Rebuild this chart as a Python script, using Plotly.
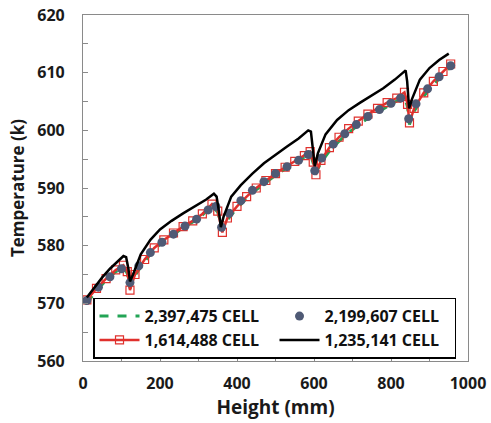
import plotly.graph_objects as go

# ---- data ----
x_fine = [10, 35, 60, 85, 105, 115, 122, 135, 160, 185, 210, 235, 260, 285, 310, 335,
          350, 362, 375, 400, 425, 450, 475, 500, 525, 550, 575, 590, 598, 605, 618,
          640, 665, 690, 715, 740, 765, 790, 815, 835, 843, 848, 860, 885, 910, 935, 955]

t_2397475 = [570.0, 572.2, 574.0, 575.5, 576.3, 575.2, 572.6, 574.8, 577.3, 579.3, 580.8,
             582.0, 583.1, 584.1, 585.3, 586.9, 585.8, 582.6, 584.5, 586.5, 588.2, 589.7,
             591.0, 592.2, 593.3, 594.3, 595.3, 596.0, 594.3, 592.6, 594.4, 596.4, 598.1,
             599.6, 600.9, 602.1, 603.1, 604.1, 605.0, 605.9, 604.0, 601.0, 603.3, 605.9,
             607.9, 609.7, 611.0]

t_1614488 = [570.6, 572.6, 574.3, 575.8, 576.6, 575.5, 572.3, 575.0, 577.6, 579.6, 581.0,
             582.2, 583.3, 584.3, 585.5, 587.2, 586.0, 582.3, 584.8, 586.8, 588.5, 590.0,
             591.3, 592.5, 593.6, 594.6, 595.6, 596.3, 594.5, 592.3, 594.8, 597.0, 598.8,
             600.3, 601.6, 602.8, 603.8, 604.8, 605.6, 606.6, 604.5, 601.3, 603.8, 606.5,
             608.5, 610.2, 611.5]

x_dots = [10, 40, 70, 100, 122, 145, 175, 205, 235, 265, 295, 325, 345, 360, 380, 410,
          440, 470, 500, 530, 560, 585, 602, 620, 650, 680, 710, 740, 770, 800, 825, 846,
          865, 895, 925, 955]
t_2199607 = [570.5, 572.8, 574.6, 576.0, 573.6, 576.5, 578.8, 580.6, 582.0, 583.4, 584.6,
             586.2, 586.8, 583.2, 585.6, 587.8, 589.6, 591.1, 592.5, 593.7, 594.8, 595.8,
             593.0, 595.2, 597.6, 599.4, 601.0, 602.4, 603.6, 604.7, 605.6, 602.0, 604.6,
             607.2, 609.3, 611.2]

x_black = [10, 30, 50, 70, 90, 105, 112, 118, 122, 130, 150, 175, 200, 230, 260, 290, 320,
           340, 347, 353, 358, 365, 385, 410, 440, 470, 500, 530, 560, 585, 592, 597, 602,
           610, 630, 660, 690, 720, 750, 780, 810, 830, 838, 842, 847, 855, 875, 900, 925, 950]
t_1235141 = [571.0, 572.8, 574.5, 576.0, 577.3, 578.2, 578.0, 576.0, 573.8, 575.0, 578.5,
             581.0, 582.8, 584.3, 585.6, 586.8, 588.0, 589.0, 588.5, 586.0, 583.2, 585.0,
             588.5, 590.5, 592.5, 594.3, 595.8, 597.2, 598.6, 600.0, 599.8, 597.0, 593.8,
             596.0, 599.3, 601.8, 603.5, 604.8, 606.0, 607.3, 608.8, 610.0, 610.4, 608.5,
             603.8, 605.5, 608.8, 610.8, 612.2, 613.3]

names = ["2,397,475 CELL", "2,199,607 CELL", "1,614,488 CELL", "1,235,141 CELL"]

FONT = "Open Sans"

fig = go.Figure()
fig.add_trace(go.Scatter(x=x_fine, y=t_2397475, name=names[0], mode="lines", legendrank=1,
                         line=dict(color="#22a455", width=3, dash="dash")))
fig.add_trace(go.Scatter(x=x_fine, y=t_1614488, name=names[2], mode="lines+markers",
                         legendrank=3,
                         line=dict(color="#e0302c", width=2.5),
                         marker=dict(symbol="square-open", size=8, color="#e0302c",
                                     line=dict(width=1.2))))
fig.add_trace(go.Scatter(x=x_dots, y=t_2199607, name=names[1], mode="markers", legendrank=2,
                         marker=dict(color="#4f5a75", size=9)))
fig.add_trace(go.Scatter(x=x_black, y=t_1235141, name=names[3], mode="lines", legendrank=4,
                         line=dict(color="#000000", width=2.5)))

axis_common = dict(showgrid=False, zeroline=False, showline=True, mirror=True,
                   automargin=False, ticklabeloverflow="allow",
                   linecolor="#8a8a8a", linewidth=1.2, ticks="inside", ticklen=5,
                   tickcolor="#8a8a8a",
                   tickfont=dict(family=FONT, size=16, color="#1a1a1a", weight="bold"))

fig.update_xaxes(range=[0, 1000], tickvals=[0, 200, 400, 600, 800, 1000],
                 minor=dict(dtick=100, ticks="inside", ticklen=5, tickcolor="#8a8a8a"),
                 title=dict(text="Height (mm)", standoff=4,
                            font=dict(family=FONT, size=19, color="#1a1a1a", weight="bold")),
                 ticklabelstandoff=8, **axis_common)
fig.update_yaxes(range=[560, 620], dtick=10,
                 minor=dict(dtick=5, ticks="inside", ticklen=5, tickcolor="#8a8a8a"),
                 title=dict(text="Temperature (k)", standoff=8,
                            font=dict(family=FONT, size=17, color="#1a1a1a", weight="bold")),
                 ticklabelstandoff=14, **axis_common)

fig.update_layout(
    width=491, height=423,
    margin=dict(l=83, r=23, t=15, b=62),
    plot_bgcolor="white", paper_bgcolor="white",
    legend=dict(orientation="h", x=0.026, y=0.183, xanchor="left", yanchor="top",
                bgcolor="white", bordercolor="#000000", borderwidth=1.5,
                entrywidth=125, entrywidthmode="pixels", tracegroupgap=0,
                itemwidth=40, traceorder="normal",
                font=dict(family=FONT, size=16, color="#111111", weight="bold")),
)

# remove the default page margin so the figure sits at the window's top-left corner
fig.write_html("out.html", config={"displayModeBar": False},
               post_script="document.body.style.margin='0';document.body.style.padding='0';")
